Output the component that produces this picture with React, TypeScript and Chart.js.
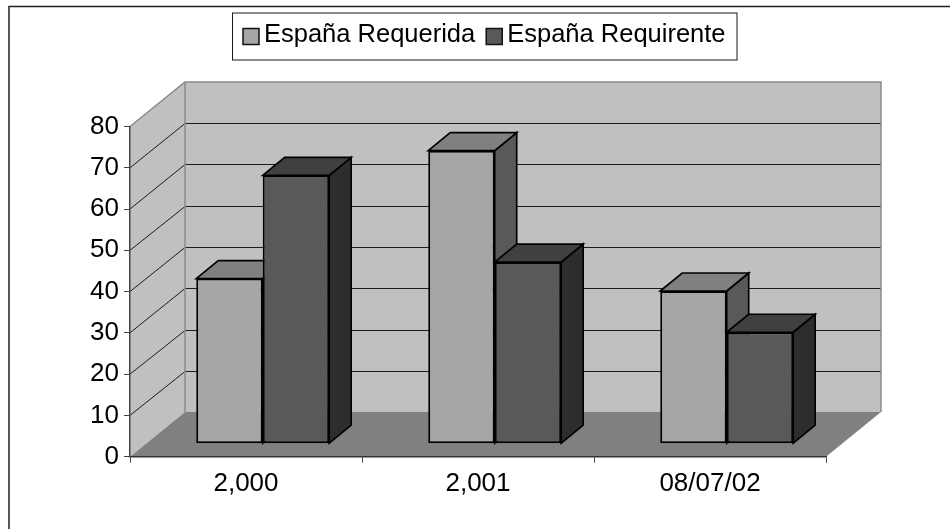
import React, { useEffect, useRef } from "react";
import { Chart, registerables } from "chart.js";

Chart.register(...registerables);

const categories = ["2,000", "2,001", "08/07/02"];
const seriesRequerida = [40, 71, 37];
const seriesRequirente = [65, 44, 27];
const yTickMax = 80;
const yTickStep = 10;

const FONT = "'Liberation Sans', Arial, sans-serif";

const faceColors = [
  { front: "#a6a6a6", top: "#808080", side: "#595959" },
  { front: "#595959", top: "#404040", side: "#2d2d2d" },
];

// 3D projection
const WALL_DX = 55;
const WALL_DY = 44.6;
const BAR_OFF_X = 16.7;
const BAR_OFF_Y = 13;
const BAR_DX = 22;
const BAR_DY = 18;

function poly(ctx: CanvasRenderingContext2D, pts: number[][], fill: string, stroke?: string, lw = 1) {
  ctx.beginPath();
  pts.forEach((p, i) => (i ? ctx.lineTo(p[0], p[1]) : ctx.moveTo(p[0], p[1])));
  ctx.closePath();
  ctx.fillStyle = fill;
  ctx.fill();
  if (stroke) {
    ctx.strokeStyle = stroke;
    ctx.lineWidth = lw;
    ctx.lineJoin = "miter";
    ctx.stroke();
  }
}

const scene3d = {
  id: "scene3d",
  afterLayout(chart: any) {
    const lg = chart.legend;
    lg.left = 232;
    lg.right = 737;
    lg.top = 11;
    lg.bottom = 59;
  },
  beforeDraw(chart: any) {
    const { ctx, chartArea: a, scales } = chart;
    const y = scales.y;
    ctx.save();
    // outer frame
    ctx.strokeStyle = "#222222";
    ctx.lineWidth = 1.5;
    ctx.beginPath();
    ctx.moveTo(9, 529);
    ctx.lineTo(9, 6.5);
    ctx.lineTo(950, 6.5);
    ctx.stroke();

    const l = a.left, r = a.right, t = a.top, b = a.bottom;
    const L = l + WALL_DX, R = r + WALL_DX, T = t - WALL_DY, B = b - WALL_DY;
    // walls
    poly(ctx, [[L, T], [R, T], [R, B], [L, B]], "#c0c0c0");
    poly(ctx, [[l, t], [L, T], [L, B], [l, b]], "#c0c0c0");
    poly(ctx, [[l, b], [L, B], [R, B], [r, b]], "#808080");
    // grid lines on the walls
    ctx.strokeStyle = "#1c1c1c";
    ctx.lineWidth = 1;
    y.ticks.forEach((tk: any) => {
      if (tk.value === 0 || tk.value === yTickMax) return;
      const py = y.getPixelForValue(tk.value);
      const back = Math.round(py - WALL_DY) + 0.5;
      ctx.beginPath();
      ctx.moveTo(l, py);
      ctx.lineTo(L, back);
      ctx.lineTo(R, back);
      ctx.stroke();
    });
    // wall edges
    ctx.strokeStyle = "#8a8a8a";
    ctx.lineWidth = 1.5;
    ctx.beginPath();
    ctx.moveTo(l, t);
    ctx.lineTo(L, T);
    ctx.lineTo(R, T);
    ctx.lineTo(R, B);
    ctx.moveTo(L, T);
    ctx.lineTo(L, B);
    ctx.stroke();
    ctx.restore();
  },
  beforeDatasetsDraw(chart: any) {
    const { ctx } = chart;
    ctx.save();
    ctx.translate(BAR_OFF_X, -BAR_OFF_Y);
    const n = chart.data.labels.length;
    for (let i = 0; i < n; i++) {
      chart.data.datasets.forEach((_: any, d: number) => {
        const el = chart.getDatasetMeta(d).data[i];
        const p = el.getProps(["x", "y", "base", "width"], true);
        const lft = p.x - p.width / 2, rgt = p.x + p.width / 2;
        poly(ctx, [[rgt, p.y], [rgt + BAR_DX, p.y - BAR_DY], [rgt + BAR_DX, p.base - BAR_DY], [rgt, p.base]], faceColors[d].side, "#000000", 1.7);
        poly(ctx, [[lft, p.y], [lft + BAR_DX, p.y - BAR_DY], [rgt + BAR_DX, p.y - BAR_DY], [rgt, p.y]], faceColors[d].top, "#000000", 1.7);
      });
    }
  },
  afterDatasetsDraw(chart: any) {
    chart.ctx.restore();
  },
  afterDraw(chart: any) {
    const { ctx, legend } = chart;
    ctx.save();
    // legend frame
    ctx.strokeStyle = "#1a1a1a";
    ctx.lineWidth = 1;
    ctx.strokeRect(232.5, 13, 504.5, 47);
    // legend swatches
    const pad = legend.options.labels.padding;
    let x = legend.left + pad;
    legend.legendHitBoxes.forEach((h: any, i: number) => {
      ctx.fillStyle = faceColors[i].front;
      ctx.strokeStyle = "#111111";
      ctx.lineWidth = 1.5;
      ctx.fillRect(x, 28.5, 16, 16);
      ctx.strokeRect(x, 28.5, 16, 16);
      x += h.width + pad;
    });
    ctx.restore();
  },
};

export default function App() {
  const ref = useRef<HTMLCanvasElement>(null);
  useEffect(() => {
    const chart = new Chart(ref.current as HTMLCanvasElement, {
      type: "bar",
      data: {
        labels: categories,
        datasets: [
          { label: "España Requerida", data: seriesRequerida, backgroundColor: faceColors[0].front, borderColor: "#000000", borderWidth: 2, borderSkipped: false },
          { label: "España Requirente", data: seriesRequirente, backgroundColor: faceColors[1].front, borderColor: "#000000", borderWidth: 2, borderSkipped: false },
        ],
      },
      options: {
        responsive: false,
        animation: false,
        layout: { padding: { left: 0, right: 124, top: 80, bottom: 0 } },
        datasets: { bar: { barPercentage: 1, categoryPercentage: 0.573 } },
        plugins: {
          title: { display: false },
          tooltip: { enabled: false },
          legend: {
            display: true,
            position: "top",
            align: "start",
            labels: {
              font: { family: FONT, size: 25.5 },
              color: "#000000",
              boxWidth: 8.25,
              boxHeight: 8,
              padding: 11,
              generateLabels: (c: any) =>
                c.data.datasets.map((d: any, i: number) => ({
                  text: d.label,
                  fillStyle: "rgba(0,0,0,0)",
                  strokeStyle: "rgba(0,0,0,0)",
                  lineWidth: 0,
                  datasetIndex: i,
                })),
            },
          },
        },
        scales: {
          x: {
            type: "category",
            afterFit: (s: any) => { s.height = 72.3; },
            grid: { drawOnChartArea: false, tickLength: 6, tickColor: "#444444", offset: true },
            border: { display: true, color: "#333333", width: 1.5 },
            ticks: { font: { family: FONT, size: 26 }, color: "#000000", padding: 6, maxRotation: 0 },
          },
          y: {
            min: 0,
            max: yTickMax,
            afterFit: (s: any) => { s.width = 130; },
            grid: { drawOnChartArea: false, tickLength: 6, tickColor: "#444444" },
            border: { display: true, color: "#444444", width: 1.5 },
            ticks: { stepSize: yTickStep, font: { family: FONT, size: 26 }, color: "#000000", padding: 5 },
          },
        },
      } as any,
      plugins: [scene3d as any],
    });
    return () => chart.destroy();
  }, []);
  return (
    <div style={{ position: "fixed", left: 0, top: 0, width: 950, height: 529, background: "#fff" }}>
      <canvas ref={ref} width={950} height={529} style={{ display: "block" }} />
    </div>
  );
}
